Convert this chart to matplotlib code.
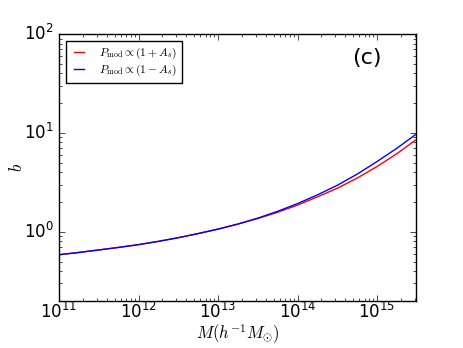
import matplotlib
matplotlib.use("Agg")
import matplotlib.pyplot as plt
import numpy as np

plt.style.use('classic')

log_mass = [11.0, 11.25, 11.5, 11.75, 12.0, 12.25, 12.5, 12.75, 13.0, 13.25,
            13.5, 13.75, 14.0, 14.25, 14.5, 14.75, 15.0, 15.25, 15.48]
bias_plus = [0.586, 0.618, 0.655, 0.695, 0.741, 0.800, 0.871, 0.959, 1.064, 1.197,
             1.361, 1.574, 1.862, 2.254, 2.754, 3.491, 4.571, 6.166, 8.414]
bias_minus = [0.586, 0.618, 0.655, 0.695, 0.741, 0.800, 0.871, 0.959, 1.064, 1.197,
              1.374, 1.611, 1.928, 2.360, 2.951, 3.828, 5.129, 6.998, 9.550]

mass = 10.0 ** np.array(log_mass)

fig = plt.figure(figsize=(4.63, 3.48), dpi=100, facecolor='white')
ax = fig.add_axes([59/463, 47/348, 357/463, 267/348])
ax.plot(mass, bias_plus, color='r', lw=1.0, label=r'$P_{\rm mod}\propto(1+A_s)$')
ax.plot(mass, bias_minus, color='b', lw=1.0, label=r'$P_{\rm mod}\propto(1-A_s)$')
ax.set_xscale('log')
ax.set_yscale('log')
ax.set_xlim(1e11, 10**15.49)
ax.set_ylim(10**-0.7, 100)
ax.set_xlabel(r'$M(h^{-1}M_{\odot})$', fontsize=12)
ax.set_ylabel(r'$b$', fontsize=12)
ax.xaxis.set_label_coords(0.5, -0.082)
ax.yaxis.set_label_coords(-0.092, 0.5)
ax.tick_params(labelsize=12)
ax.tick_params(axis='x', which='major', pad=1)
ax.text(0.863, 0.91, '(c)', transform=ax.transAxes, fontsize=16, ha='center', va='center')
leg = ax.legend(loc='upper left', fontsize=8.3, frameon=True, handlelength=1.5,
                handletextpad=1.0, labelspacing=0.2, borderaxespad=0.6)
fig.savefig('out.png', dpi=100, facecolor='white')
